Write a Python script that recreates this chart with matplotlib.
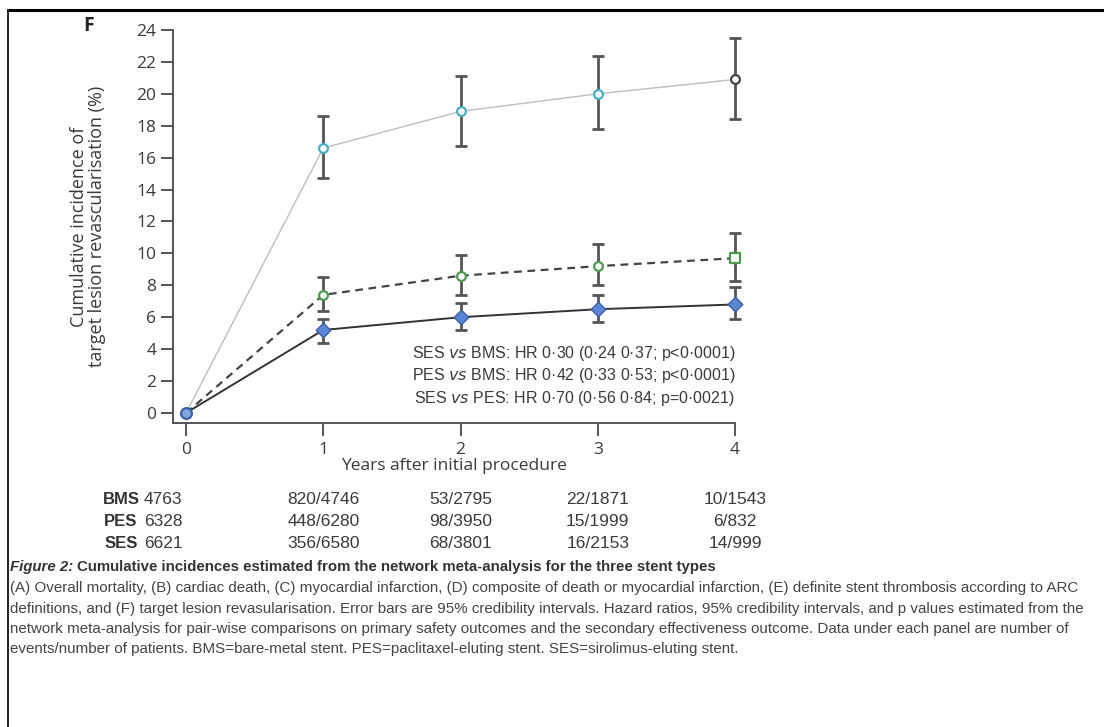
import numpy as np
import matplotlib
matplotlib.use("Agg")
import matplotlib.pyplot as plt
from matplotlib.lines import Line2D

plt.rcParams["font.family"] = ["Open Sans", "DejaVu Sans"]

# Data
years = [0, 1, 2, 3, 4]
bms = [0.0, 16.6, 18.9, 20.0, 20.9]
bms_lo = [0.0, 14.7, 16.7, 17.8, 18.4]
bms_hi = [0.0, 18.6, 21.1, 22.4, 23.5]
pes = [0.0, 7.4, 8.6, 9.2, 9.7]
pes_lo = [0.0, 6.4, 7.4, 8.0, 8.3]
pes_hi = [0.0, 8.5, 9.9, 10.6, 11.3]
ses = [0.0, 5.2, 6.0, 6.5, 6.8]
ses_lo = [0.0, 4.4, 5.2, 5.7, 5.9]
ses_hi = [0.0, 5.9, 6.9, 7.4, 7.9]

hr_lines = [
    "SES $\\it{vs}$ BMS: HR 0·30 (0·24 0·37; p<0·0001)",
    "PES $\\it{vs}$ BMS: HR 0·42 (0·33 0·53; p<0·0001)",
    "SES $\\it{vs}$ PES: HR 0·70 (0·56 0·84; p=0·0021)",
]

row_labels = ["BMS", "PES", "SES"]
at_risk = {
    "BMS": ["4763", "820/4746", "53/2795", "22/1871", "10/1543"],
    "PES": ["6328", "448/6280", "98/3950", "15/1999", "6/832"],
    "SES": ["6621", "356/6580", "68/3801", "16/2153", "14/999"],
}

caption_title = "Figure 2: "
caption_head = "Cumulative incidences estimated from the network meta-analysis for the three stent types"
caption_body = [
    "(A) Overall mortality, (B) cardiac death, (C) myocardial infarction, (D) composite of death or myocardial infarction, (E) definite stent thrombosis according to ARC",
    "definitions, and (F) target lesion revasularisation. Error bars are 95% credibility intervals. Hazard ratios, 95% credibility intervals, and p values estimated from the",
    "network meta-analysis for pair-wise comparisons on primary safety outcomes and the secondary effectiveness outcome. Data under each panel are number of",
    "events/number of patients. BMS=bare-metal stent. PES=paclitaxel-eluting stent. SES=sirolimus-eluting stent.",
]

W, H = 1104, 727
fig = plt.figure(figsize=(W / 100, H / 100), dpi=100)
ax = fig.add_axes([173 / W, 1 - 423 / H, (735 - 173) / W, (423 - 30) / H])

txt = "#3a3a3a"
err_col = "#555555"
sans = ["Liberation Sans", "DejaVu Sans"]


def err(v, lo, hi):
    v, lo, hi = np.array(v[1:]), np.array(lo[1:]), np.array(hi[1:])
    return [v - lo, hi - v]


eb_kw = dict(fmt="none", ecolor=err_col, elinewidth=2.0, capsize=4, capthick=2.0, zorder=3, clip_on=False)

# BMS: light grey line, open circles
ax.plot(years, bms, color="#bdbdbd", lw=1.0, zorder=2, clip_on=False)
ax.errorbar(years[1:], bms[1:], yerr=err(bms, bms_lo, bms_hi), **eb_kw)
ax.scatter(years[1:4], bms[1:4], s=40, facecolor="white", edgecolor="#48aec4", lw=1.6, zorder=5, clip_on=False)
ax.scatter(years[4:], bms[4:], s=40, facecolor="white", edgecolor="#444444", lw=1.6, zorder=5, clip_on=False)

# PES: dashed dark line, green markers
ax.plot(years, pes, color="#444444", lw=1.6, ls=(0, (3.5, 2.5)), zorder=2, clip_on=False)
ax.errorbar(years[1:], pes[1:], yerr=err(pes, pes_lo, pes_hi), **eb_kw)
ax.scatter(years[1:4], pes[1:4], s=40, facecolor="white", edgecolor="#4c9a50", lw=1.6, zorder=5, clip_on=False)
ax.scatter(years[4:], pes[4:], s=45, marker="s", facecolor="white", edgecolor="#4c9a50", lw=1.6, zorder=5, clip_on=False)

# SES: solid dark line, blue diamonds
ax.plot(years, ses, color="#333333", lw=1.4, zorder=2, clip_on=False)
ax.errorbar(years[1:], ses[1:], yerr=err(ses, ses_lo, ses_hi), **eb_kw)
ax.scatter(years[1:], ses[1:], s=55, marker="D", facecolor="#5b86d6", edgecolor="#3c5fa8", lw=1.0, zorder=6, clip_on=False)
ax.scatter(years[:1], ses[:1], s=60, facecolor="#7ea6d8", edgecolor="#3c5fa8", lw=1.6, zorder=6, clip_on=False)

ax.set_xlim(-0.095, 4.0)
ax.set_ylim(-0.63, 24)
ax.set_xticks(years)
ax.set_yticks(np.arange(0, 25, 2))
for s in ("top", "right"):
    ax.spines[s].set_visible(False)
for s in ("left", "bottom"):
    ax.spines[s].set_color("#555555")
    ax.spines[s].set_linewidth(1.4)
ax.tick_params(axis="both", length=9, width=1.4, color="#555555", labelcolor=txt, labelsize=12.5, pad=3)
ax.tick_params(axis="x", pad=5)

ax.set_ylabel("Cumulative incidence of\ntarget lesion revascularisation (%)", fontsize=13, color=txt,
              linespacing=1.0, labelpad=22)
ax.set_xlabel("Years after initial procedure", fontsize=12.5, color=txt, labelpad=0)

fig.text(89 / W, 1 - 26 / H, "F", fontsize=14, fontweight="bold", color="#222222", ha="center", va="center")

for i, line in enumerate(hr_lines):
    ax.text(4.0, 3.75 - i * 1.42, line, ha="right", va="center", fontsize=11.5, color=txt, family=sans)

# at-risk table under the panel
row_y = [500, 521, 543]
for lab, yy in zip(row_labels, row_y):
    fig.text(121 / W, 1 - yy / H, lab, fontsize=12, fontweight="bold", color="#333333",
             ha="center", va="center", family=sans)
    vals = at_risk[lab]
    fig.text(163 / W, 1 - yy / H, vals[0], fontsize=12.5, color=txt, ha="center", va="center", family=sans)
    for k in range(1, 5):
        xd = ax.transData.transform((years[k], 0))[0]
        fig.text(xd / W, 1 - yy / H, vals[k], fontsize=12.5, color=txt, ha="center", va="center", family=sans)

# caption
t1 = fig.text(10 / W, 1 - 567 / H, caption_title, fontsize=10.8, fontweight="bold", style="italic",
              color="#333333", ha="left", va="center", family=sans)
fig.canvas.draw()
bb = t1.get_window_extent()
fig.text(bb.x1 / W, 1 - 567 / H, caption_head, fontsize=10.8, fontweight="bold",
         color="#333333", ha="left", va="center", family=sans)
for i, line in enumerate(caption_body):
    fig.text(10 / W, 1 - (588 + i * 20.5) / H, line, fontsize=10.9, color="#444444",
             ha="left", va="center", family=sans)

# frame lines of the page
fig.add_artist(Line2D([8 / W, 1], [1 - 10 / H, 1 - 10 / H], color="black", lw=2.2, transform=fig.transFigure))
fig.add_artist(Line2D([8 / W, 8 / W], [1 - 10 / H, 0], color="#222222", lw=1.4, transform=fig.transFigure))

fig.savefig("out.png", dpi=100)
